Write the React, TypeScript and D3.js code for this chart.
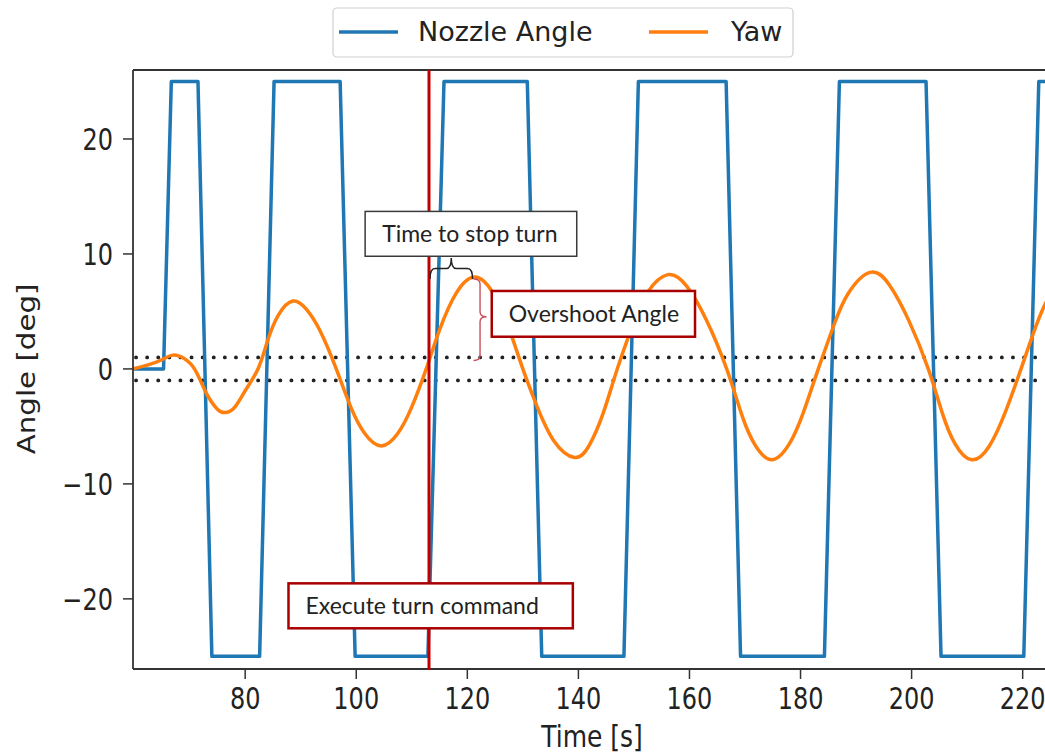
import * as d3 from "d3";

// nozzle command (deg) vs time (s)
const nozzleTime = [59.8, 65.3, 66.7, 71.5, 74.0, 82.6, 85.2, 97.1, 99.8, 112.9, 115.8, 130.8, 133.4, 148.2, 150.8, 166.6, 169.2, 184.3, 187.0, 202.6, 205.3, 220.2, 222.9, 226];
const nozzleAngle = [0, 0, 25, 25, -25, -25, 25, 25, -25, -25, 25, 25, -25, -25, 25, 25, -25, -25, 25, 25, -25, -25, 25, 25];

// yaw response (deg) vs time (s)
const yawTime = [
  59.8, 62.5, 65, 67, 69, 71, 73, 75, 76.3, 78, 80, 82.3, 84, 86, 88.6, 91, 93.5, 96.4,
  99, 101.5, 104.5, 107.5, 110, 112.6, 115, 118, 121.3, 124.5, 127.5, 130, 132.5, 135.5,
  139.3, 142, 144.5, 147, 150, 152.5, 156.1, 159.5, 163, 166.7, 169.5, 171.8, 174.8, 178,
  180.5, 183.2, 186, 188.5, 192.5, 196, 199.5, 203, 205.5, 207.8, 210.8, 214, 217, 219.7,
  222, 224, 226,
];
const yawAngle = [
  0, 0.35, 0.8, 1.2, 0.9, -0.1, -2.1, -3.5, -3.8, -3.4, -1.9, 0, 2.4, 4.7, 5.9, 5.2, 3.3, 0,
  -3.3, -5.6, -6.7, -5.6, -3.3, 0, 3.4, 6.6, 8.0, 6.7, 3.5, 0, -3.2, -6.2,
  -7.7, -6.6, -3.8, 0, 4.1, 6.7, 8.2, 7.2, 4.3, 0, -4.1, -6.6, -7.9, -6.5,
  -3.8, 0, 3.8, 6.5, 8.4, 7.3, 4.2, 0, -3.8, -6.5, -7.9, -6.7, -3.6, 0,
  3.2, 5.6, 7.3,
];

const xTicks = [80, 100, 120, 140, 160, 180, 200, 220];
const yTicks = [-20, -10, 0, 10, 20];
const bandLimits = [1, -1];

const turnTime = 113.1;
const peakTime = 121.3;
const peakAngle = 8.0;

const W = 1045;
const H = 756;
const left = 133;
const top = 70;
const bottom = 669;
const axisRight = 1051;

const blue = "#1f77b4";
const orange = "#ff7f0e";
const darkRed = "#a80000";
const stretch = 1.22;

const boxes = [
  { label: "Time to stop turn", t0: 101.6, t1: 139.7, v0: 13.7, v1: 9.8, stroke: "#3a3a3a", sw: 1.5 },
  { label: "Overshoot Angle", t0: 124.4, t1: 161.0, v0: 6.78, v1: 2.8, stroke: darkRed, sw: 2.5 },
  { label: "Execute turn command", t0: 87.8, t1: 139.0, v0: -18.65, v1: -22.56, stroke: darkRed, sw: 2.5 },
];

export default function App() {
  const x = d3.scaleLinear().domain([59.8, 225.1]).range([left, axisRight]);
  const y = d3.scaleLinear().domain([-26.1, 26.0]).range([bottom, top]);

  const nozzleLine = d3
    .line<number>()
    .x((_, i) => x(nozzleTime[i]))
    .y((d) => y(d));
  const yawLine = d3
    .line<number>()
    .x((_, i) => x(yawTime[i]))
    .y((d) => y(d))
    .curve(d3.curveNatural);

  // horizontal brace (tip up) between the turn command and the yaw peak
  const bx0 = x(turnTime) + 1;
  const bx1 = x(peakTime) - 2;
  const by = y(peakAngle) + 2;
  const bd = 21;
  const bm = (bx0 + bx1) / 2;
  const q = 5;
  const hBrace = `M${bx0},${by} Q${bx0},${by - bd / 2} ${bx0 + q},${by - bd / 2} L${bm - q},${by - bd / 2} Q${bm},${by - bd / 2} ${bm},${by - bd} Q${bm},${by - bd / 2} ${bm + q},${by - bd / 2} L${bx1 - q},${by - bd / 2} Q${bx1},${by - bd / 2} ${bx1},${by}`;

  // vertical brace (tip right) for overshoot
  const vx = x(peakTime) - 1;
  const vy0 = y(peakAngle) + 2;
  const vy1 = y(bandLimits[0]) + 3;
  const vd = 13;
  const vm = (vy0 + vy1) / 2 - 3;
  const vBrace = `M${vx},${vy0} Q${vx + vd / 2},${vy0} ${vx + vd / 2},${vy0 + q} L${vx + vd / 2},${vm - q} Q${vx + vd / 2},${vm} ${vx + vd},${vm} Q${vx + vd / 2},${vm} ${vx + vd / 2},${vm + q} L${vx + vd / 2},${vy1 - q} Q${vx + vd / 2},${vy1} ${vx},${vy1}`;

  return (
    <svg
      width={W}
      height={H}
      style={{ position: "absolute", left: 0, top: 0, background: "#fff" }}
      fontFamily="DejaVu Sans, sans-serif"
    >
      <defs>
        <clipPath id="plot">
          <rect x={left} y={top} width={W - left} height={bottom - top} />
        </clipPath>
      </defs>

      {/* dotted tolerance band */}
      {bandLimits.map((b) => (
        <line
          key={b}
          x1={left + 3}
          x2={W}
          y1={y(b)}
          y2={y(b)}
          stroke="#222"
          strokeWidth={3.8}
          strokeDasharray="0.1 11"
          strokeLinecap="round"
        />
      ))}

      <g clipPath="url(#plot)">
        <path d={nozzleLine(nozzleAngle) || ""} fill="none" stroke={blue} strokeWidth={3.5} strokeLinejoin="round" />
        <path d={yawLine(yawAngle) || ""} fill="none" stroke={orange} strokeWidth={3.5} />
      </g>

      {/* spines */}
      <g stroke="#333" strokeWidth={1.8}>
        <line x1={left} x2={left} y1={top} y2={bottom} />
        <line x1={left} x2={W} y1={top} y2={top} />
        <line x1={left} x2={W} y1={bottom} y2={bottom} />
      </g>

      {/* x axis */}
      {xTicks.map((t) => (
        <g key={t} transform={`translate(${x(t)},${bottom})`}>
          <line y2={10} stroke="#333" strokeWidth={1.5} />
          <text transform={`translate(0,40) scale(1,${stretch})`} textAnchor="middle" fontSize={24} fill="#222">
            {t}
          </text>
        </g>
      ))}
      <text transform={`translate(${(left + axisRight) / 2},747) scale(1,${stretch})`} textAnchor="middle" fontSize={25} fill="#222">
        Time [s]
      </text>

      {/* y axis */}
      {yTicks.map((v) => (
        <g key={v} transform={`translate(${left},${y(v)})`}>
          <line x2={-10} stroke="#333" strokeWidth={1.5} />
          <text transform={`translate(-20,${11}) scale(1,${stretch})`} textAnchor="end" fontSize={24} fill="#222">
            {v < 0 ? `\u2212${Math.abs(v)}` : v}
          </text>
        </g>
      ))}
      <text transform={`translate(35,${y(0)}) scale(1,${stretch}) rotate(-90)`} textAnchor="middle" fontSize={24} fill="#222">
        Angle [deg]
      </text>

      {/* turn command marker */}
      <line x1={x(turnTime)} x2={x(turnTime)} y1={top} y2={bottom + 1} stroke="#c00000" strokeWidth={3} />

      {/* braces */}
      <path d={hBrace} fill="none" stroke="#222" strokeWidth={1.5} />
      <path d={vBrace} fill="none" stroke="#c8505c" strokeWidth={1.4} />

      {/* annotation boxes */}
      {boxes.map((b) => (
        <g key={b.label}>
          <rect
            x={x(b.t0)}
            y={y(b.v0)}
            width={x(b.t1) - x(b.t0)}
            height={y(b.v1) - y(b.v0)}
            fill="#fff"
            stroke={b.stroke}
            strokeWidth={b.sw}
          />
          <text
            x={x(b.t0) + 17}
            y={(y(b.v0) + y(b.v1)) / 2 + 8}
            fontFamily="Lato, sans-serif"
            fontSize={23}
            fill="#222"
          >
            {b.label}
          </text>
        </g>
      ))}

      {/* legend */}
      <g>
        <rect x={333} y={8} width={460} height={49} rx={4} fill="#fff" stroke="#cfcfcf" strokeWidth={1.2} />
        <line x1={339} x2={398} y1={32} y2={32} stroke={blue} strokeWidth={3.5} />
        <text x={418} y={41} fontSize={27} fill="#222">Nozzle Angle</text>
        <line x1={649} x2={708} y1={32} y2={32} stroke={orange} strokeWidth={3.5} />
        <text x={731} y={41} fontSize={27} fill="#222">Yaw</text>
      </g>
    </svg>
  );
}
